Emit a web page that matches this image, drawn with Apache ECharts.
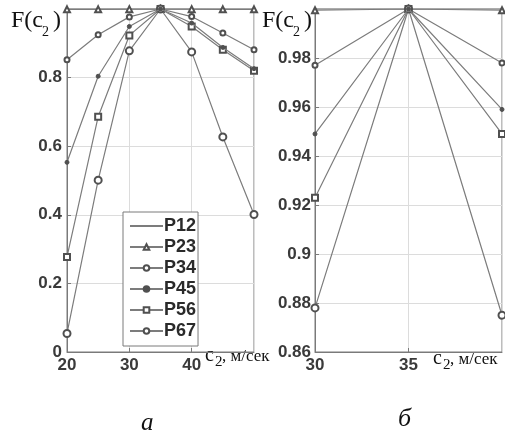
<!DOCTYPE html>
<html>
<head>
<meta charset="utf-8">
<script src="https://cdn.jsdelivr.net/npm/echarts@6/dist/echarts.min.js"></script>
<style>
html, body { margin: 0; padding: 0; background: #fff; }
#main { width: 505px; height: 434px; }
</style>
</head>
<body>
<div id="main"></div>
<script>
//скорость c2, м/сек
var speeds = [20, 25, 30, 35, 40, 45, 50];
//названия кривых
var names = ['P12', 'P23', 'P34', 'P45', 'P56', 'P67'];
//значения F(c2) по кривым
var p12 = [1, 1, 1, 1, 1, 1, 1];
var p23 = [0.999, 0.999, 0.9995, 1, 0.9995, 0.999, 0.999];
var p34 = [0.852, 0.925, 0.977, 1, 0.978, 0.930, 0.881];
var p45 = [0.553, 0.804, 0.949, 1, 0.959, 0.888, 0.826];
var p56 = [0.277, 0.686, 0.923, 1, 0.949, 0.881, 0.820];
var p67 = [0.054, 0.501, 0.878, 1, 0.875, 0.627, 0.401];
var allValues = [p12, p23, p34, p45, p56, p67];
//маркеры
var symbols = ['none', 'emptyTriangle', 'emptyCircle', 'circle', 'emptyRect', 'emptyCircle'];
var symbolSizes = [0, 6, 5, 4, 6, 7];
var zOrder = [3, 4, 5, 9, 6, 7];

var lineColor = '#7c7c7c';
var axisColor = '#7a7a7a';
var labelFont = 'Liberation Sans';
var serifFont = 'Liberation Serif';

var chart = echarts.init(document.getElementById('main'));

//точки кривой в пределах [xmin, xmax]
function pairs(values, xmin, xmax) {
	var res = [];
	for (var i = 0; i < speeds.length; i++) {
		if (speeds[i] >= xmin && speeds[i] <= xmax) {
			res.push([speeds[i], values[i]]);
		}
	}
	return res;
}

function axisBase(min, max, interval) {
	return {
		type: 'value',
		min: min,
		max: max,
		interval: interval,
		axisLine: { show: true, lineStyle: { color: axisColor, width: 1 } },
		axisTick: { show: true, inside: true, length: 4, lineStyle: { color: axisColor } },
		splitLine: { show: true, lineStyle: { color: '#dcdcdc', width: 1 } },
		axisLabel: {
			color: '#3a3a3a',
			fontFamily: labelFont,
			fontWeight: 'bold',
			fontSize: 17,
			showMaxLabel: false,
			formatter: function(v) {
				return String(Math.round(v * 100) / 100);
			}
		}
	};
}

var series = [];
for (var k = 0; k < names.length; k++) {
	var s = {
		name: names[k],
		type: 'line',
		symbol: symbols[k],
		symbolSize: symbolSizes[k],
		showSymbol: symbols[k] !== 'none',
		lineStyle: { color: lineColor, width: 1.2 },
		itemStyle: { color: '#505050', borderColor: '#505050', borderWidth: 1 },
		animation: false,
		z: zOrder[k]
	};
	series.push(Object.assign({}, s, {
		xAxisIndex: 0, yAxisIndex: 0,
		data: pairs(allValues[k], 20, 50)
	}));
	series.push(Object.assign({}, s, {
		xAxisIndex: 1, yAxisIndex: 1,
		data: pairs(allValues[k], 30, 40)
	}));
}

var xLeft = axisBase(20, 50, 10);
xLeft.axisLabel.margin = 5;
var yLeft = axisBase(0, 1, 0.2);
yLeft.axisLabel.margin = 5;
var xRight = axisBase(30, 40, 5);
xRight.axisLabel.margin = 5;
var yRight = axisBase(0.86, 1, 0.02);
yRight.axisLabel.margin = 4;

var legendData = names.map(function(n) {
	if (n === 'P12') {
		return { name: n, itemStyle: { opacity: 0 } };
	}
	return { name: n };
});

//подпись с нижним индексом: куски текста отдельно
function txt(left, top, text, size, extra) {
	return {
		type: 'text', left: left, top: top,
		style: { text: text, font: (extra || '') + size + 'px "' + serifFont + '"', fill: '#111' }
	};
}

function fLabel(x0) {
	return [
		txt(x0, 9, 'F(c', 24),
		txt(x0 + 31, 25, '2', 14),
		txt(x0 + 42, 9, ')', 24)
	];
}

function unitLabel(x0, y0) {
	return [
		txt(x0, y0, 'c', 20),
		txt(x0 + 10, y0 + 9, '2', 15),
		txt(x0 + 17, y0 + 2, ', м/сек', 17)
	];
}

var option = {
	backgroundColor: '#fff',
	animation: false,
	grid: [
		{ left: 67, right: 251, top: 9, bottom: 82, show: true, borderColor: axisColor, borderWidth: 1, backgroundColor: 'transparent' },
		{ left: 315, right: 3, top: 9, bottom: 82, show: true, borderColor: axisColor, borderWidth: 1, backgroundColor: 'transparent' }
	],
	xAxis: [
		Object.assign(xLeft, { gridIndex: 0 }),
		Object.assign(xRight, { gridIndex: 1 })
	],
	yAxis: [
		Object.assign(yLeft, { gridIndex: 0 }),
		Object.assign(yRight, { gridIndex: 1 })
	],
	legend: {
		data: legendData,
		orient: 'vertical',
		left: 123,
		top: 212,
		padding: [5, 2, 6, 6],
		itemGap: 3,
		itemWidth: 33,
		itemHeight: 7,
		backgroundColor: '#fff',
		borderColor: axisColor,
		borderWidth: 1,
		borderRadius: 0,
		textStyle: { fontFamily: labelFont, fontWeight: 'bold', fontSize: 18, lineHeight: 18, color: '#2a2a2a', padding: [0, 0, 0, -4] },
		selectedMode: false
	},
	series: series,
	graphic: [].concat(
		fLabel(11), fLabel(262),
		unitLabel(205, 346), unitLabel(433, 349),
		[
			txt(141, 411, 'а', 25, 'italic '),
			txt(398, 406, 'б', 26, 'italic ')
		]
	)
};
chart.setOption(option);
</script>
</body>
</html>
